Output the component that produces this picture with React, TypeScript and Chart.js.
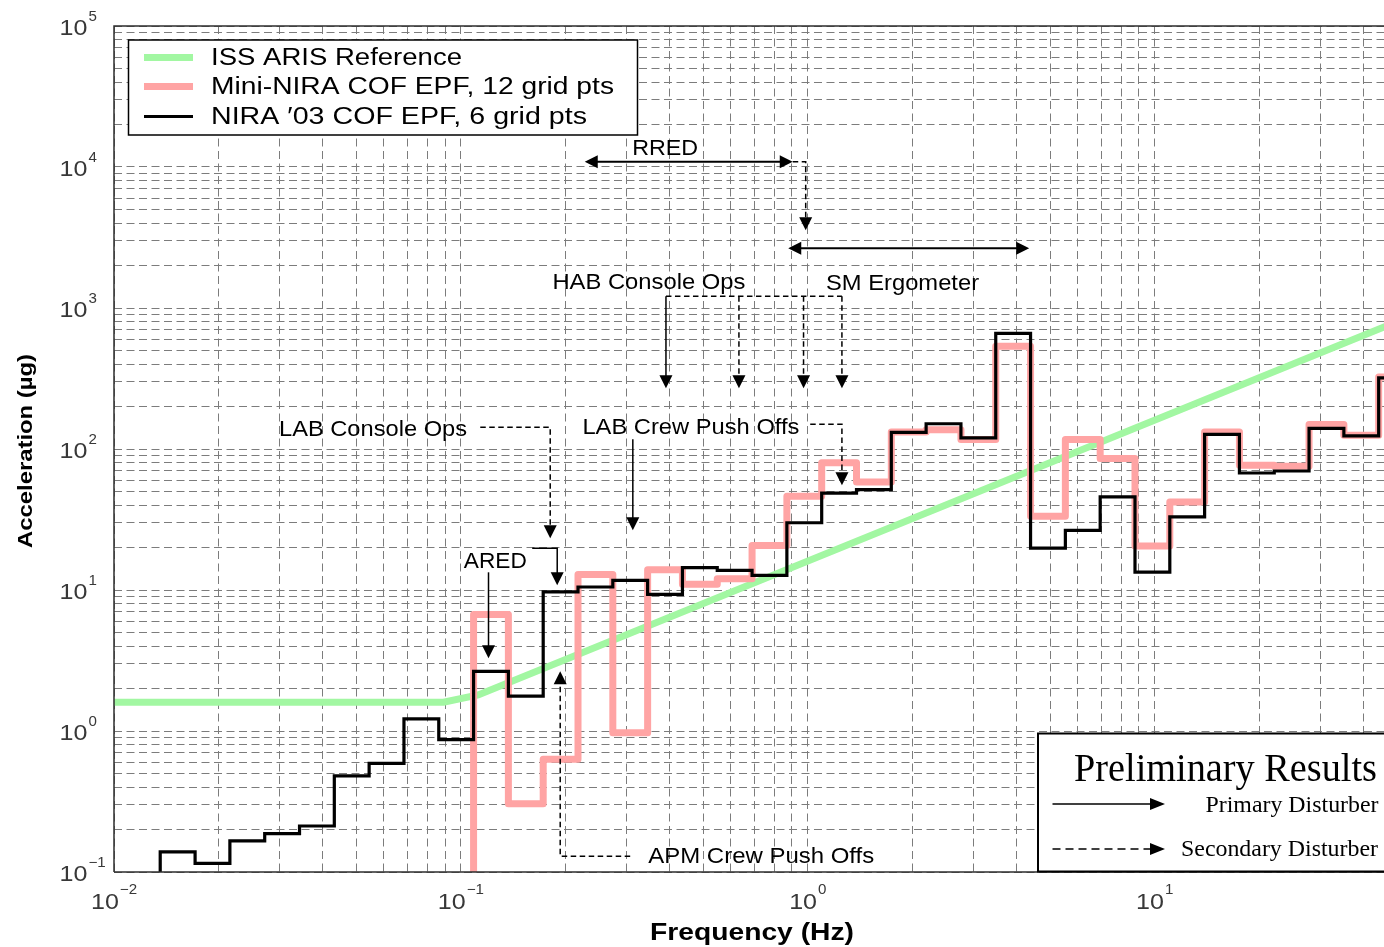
import React, { useEffect, useRef } from 'react';
import { Chart, registerables } from 'chart.js';

Chart.register(...registerables);

// ---------- DATA ----------
// 1/3-octave band edges (Hz): lower edge of each band; the last entry is the upper edge of the final band
const bandEdgesHz = [
  0.01079, 0.01359, 0.01713, 0.02158, 0.02719, 0.03426, 0.04316, 0.05438, 0.06852, 0.08633,
  0.10877, 0.13704, 0.17266, 0.21754, 0.27409, 0.34533, 0.43509, 0.54818, 0.69067, 0.87019,
  1.0964, 1.3814, 1.7404, 2.1928, 2.7628, 3.4809, 4.3857, 5.5256, 6.962, 8.7716,
  11.052, 13.924, 17.544, 22.104, 27.85, 35.089, 44.21, 55.701,
];

// NIRA '03 COF EPF, 6 grid pts (µg per band); first band lies below the 0.1 µg floor
const nira03Accel = [
  0.05, 0.139, 0.115, 0.166, 0.187, 0.212, 0.48, 0.59, 1.22, 0.87,
  2.65, 1.77, 9.7, 10.5, 11.7, 9.3, 14.4, 13.8, 12.7, 30,
  48.7, 51.5, 131, 151, 120, 660, 19.8, 26.5, 45.7, 13.4,
  33, 127, 67.6, 69.8, 140, 124, 319,
];

// Mini-NIRA COF EPF, 12 grid pts (µg per band); null = not shown, 0.05 = below the floor
const miniNiraAccel = [
  null, null, null, null, null, null, null, null, null, 0.05,
  6.7, 0.305, 0.63, 12.9, 0.97, 13.9, 11.0, 12.0, 20.7, 46.2,
  80, 58.3, 132, 137, 117, 535, 33.3, 117, 85.5, 20.5,
  42, 132, 76.6, 75.4, 149, 125, 324,
];

// ISS ARIS reference curve
const arisFreqHz = [0.01, 0.0891, 0.1122, 50];
const arisAccel = [1.6, 1.6, 1.8, 800];

const seriesLabels = ['ISS ARIS Reference', 'Mini-NIRA COF EPF, 12 grid pts', 'NIRA \u203203 COF EPF, 6 grid pts'];

// axis decades (tick labels 10^n) and grid multiples
const xDecades = [-2, -1, 0, 1];
const yDecades = [-1, 0, 1, 2, 3, 4, 5];
const gridMultiples = [1, 2, 3, 4, 5, 6, 7, 8, 9];

// annotations, anchored in data units [Hz, µg]
const annotationTexts = [
  { text: 'RRED', at: [0.388, 13977], w: 66 },
  { text: 'SM Ergometer', at: [1.875, 1534], w: 153 },
  { text: 'HAB Console Ops', at: [0.3483, 1551], w: 193 },
  { text: 'LAB Crew Push Offs', at: [0.4603, 146.5], w: 217 },
  { text: 'LAB Console Ops', at: [0.0558, 141.4], w: 188 },
  { text: 'ARED', at: [0.1256, 16.4], w: 63 },
  { text: 'APM Crew Push Offs', at: [0.734, 0.132], w: 226 },
];

const annotationArrows = [
  { path: [[0.2275, 10890], [0.9046, 10890]], dashed: false, heads: 'both', lw: 2 },
  { path: [[0.9046, 10890], [0.986, 10890], [0.986, 3557]], dashed: true, heads: 'end', lw: 1.5 },
  { path: [[0.878, 2651], [4.346, 2651]], dashed: false, heads: 'both', lw: 2 },
  { path: [[0.39, 1211], [0.39, 269.5]], dashed: false, heads: 'end', lw: 1.5 },
  { path: [[0.39, 1211], [1.254, 1211]], dashed: true, heads: 'none', lw: 1.5 },
  { path: [[0.633, 1211], [0.633, 269.5]], dashed: true, heads: 'end', lw: 1.5 },
  { path: [[0.972, 1211], [0.972, 269.5]], dashed: true, heads: 'end', lw: 1.5 },
  { path: [[1.254, 1211], [1.254, 269.5]], dashed: true, heads: 'end', lw: 1.5 },
  { path: [[0.313, 117.2], [0.313, 26.5]], dashed: false, heads: 'end', lw: 1.5 },
  { path: [[1.016, 149.7], [1.254, 149.7], [1.254, 55.3]], dashed: true, heads: 'end', lw: 1.5 },
  { path: [[0.1137, 142.5], [0.1809, 142.5], [0.1809, 23.3]], dashed: true, heads: 'end', lw: 1.5 },
  { path: [[0.1201, 13.35], [0.1201, 3.28]], dashed: false, heads: 'end', lw: 1.5 },
  { path: [[0.1605, 19.76], [0.1895, 19.76], [0.1895, 10.8]], dashed: false, heads: 'end', lw: 1.5 },
  { path: [[0.3076, 0.1292], [0.1933, 0.1292], [0.1933, 2.65]], dashed: true, heads: 'end', lw: 1.5 },
];

// ---------- STYLE ----------
const GREEN = '#a2f7a2';
const PINK = '#ffa4a4';
const BLACK = '#000000';
const GRID = '#7c7c7c';
const SANS = "'Liberation Sans', Arial, Helvetica, sans-serif";
const SERIF = "'Liberation Serif', 'Times New Roman', serif";
const CAP_SANS = 0.716;
const CAP_SERIF = 0.655;

function stairs(values: (number | null)[]) {
  const pts: { x: number; y: number | null }[] = values.map((v, i) => ({ x: bandEdgesHz[i], y: v }));
  pts.push({ x: bandEdgesHz[values.length], y: values[values.length - 1] });
  return pts;
}

function decadeTicks(decades: number[], min: number, max: number) {
  const out: { value: number; major: boolean }[] = [];
  for (const d of decades) {
    for (const m of gridMultiples) {
      const v = m * Math.pow(10, d);
      if (v >= min * 0.9999 && v <= max * 1.0001) out.push({ value: v, major: m === 1 });
    }
  }
  return out;
}

type TxtOpts = {
  size: number; family: string; weight?: string; width?: number; sx?: number;
  color?: string; cap: number; align?: 'left' | 'center' | 'right'; rotate?: number;
};

function fitText(ctx: CanvasRenderingContext2D, text: string, cx: number, cy: number, o: TxtOpts) {
  ctx.save();
  ctx.font = `${o.weight ?? 'normal'} ${o.size}px ${o.family}`;
  const nat = ctx.measureText(text).width;
  const sx = o.width ? o.width / nat : o.sx ?? 1;
  const w = nat * sx;
  ctx.translate(cx, cy);
  if (o.rotate) ctx.rotate(o.rotate);
  const ax = o.align === 'left' ? 0 : o.align === 'right' ? -w : -w / 2;
  ctx.translate(ax, (o.size * o.cap) / 2);
  ctx.scale(sx, 1);
  ctx.fillStyle = o.color ?? '#000';
  ctx.textAlign = 'left';
  ctx.textBaseline = 'alphabetic';
  ctx.fillText(text, 0, 0);
  ctx.restore();
  return w;
}

function arrowHead(ctx: CanvasRenderingContext2D, tip: number[], from: number[], len: number, half: number) {
  const a = Math.atan2(tip[1] - from[1], tip[0] - from[0]);
  const c = Math.cos(a), s = Math.sin(a);
  ctx.beginPath();
  ctx.moveTo(tip[0], tip[1]);
  ctx.lineTo(tip[0] - len * c - half * s, tip[1] - len * s + half * c);
  ctx.lineTo(tip[0] - len * c + half * s, tip[1] - len * s - half * c);
  ctx.closePath();
  ctx.fill();
}

function drawArrow(
  ctx: CanvasRenderingContext2D, pts: number[][], dashed: boolean, heads: string, lw: number,
  dash: number[], len = 13, half = 6.5,
) {
  const p = pts.map((q) => [q[0], q[1]]);
  const shorten = (i: number, j: number) => {
    const dx = p[i][0] - p[j][0], dy = p[i][1] - p[j][1];
    const d = Math.hypot(dx, dy) || 1;
    p[i][0] -= (dx / d) * len * 0.8;
    p[i][1] -= (dy / d) * len * 0.8;
  };
  const n = pts.length;
  if (heads === 'end' || heads === 'both') shorten(n - 1, n - 2);
  if (heads === 'both') shorten(0, 1);
  ctx.save();
  ctx.strokeStyle = '#000';
  ctx.fillStyle = '#000';
  ctx.lineWidth = lw;
  ctx.setLineDash(dashed ? dash : []);
  ctx.beginPath();
  ctx.moveTo(p[0][0], p[0][1]);
  for (let i = 1; i < n; i++) ctx.lineTo(p[i][0], p[i][1]);
  ctx.stroke();
  ctx.setLineDash([]);
  if (heads === 'end' || heads === 'both') arrowHead(ctx, pts[n - 1], pts[n - 2], len, half);
  if (heads === 'both') arrowHead(ctx, pts[0], pts[1], len, half);
  ctx.restore();
}

const decorPlugin = {
  id: 'decor',
  afterDraw(chart: any) {
    const { ctx, chartArea: ca } = chart;
    const xs = chart.scales.x;
    const ys = chart.scales.y;
    const P = (f: number, v: number) => [xs.getPixelForValue(f), ys.getPixelForValue(v)];

    // axes frame
    ctx.save();
    ctx.strokeStyle = '#2e2e2e';
    ctx.lineWidth = 1.5;
    ctx.beginPath();
    ctx.moveTo(ca.left, ca.bottom);
    ctx.lineTo(ca.left, ca.top);
    ctx.lineTo(ca.right, ca.top);
    ctx.moveTo(ca.left, ca.bottom);
    ctx.lineTo(ca.right, ca.bottom);
    ctx.stroke();
    ctx.restore();

    // tick labels 10^n
    const TICK = '#383838';
    const BASE = 22, BSX = 1.14, EXP = 14, ESX = 1.08;
    for (const d of yDecades) {
      const py = ys.getPixelForValue(Math.pow(10, d));
      const exp = d < 0 ? '\u2212' + Math.abs(d) : String(d);
      fitText(ctx, '10', 87.5, py + 1, { size: BASE, family: SANS, sx: BSX, cap: CAP_SANS, align: 'right', color: TICK });
      fitText(ctx, exp, 88.5, py - 10, { size: EXP, family: SANS, sx: ESX, cap: CAP_SANS, align: 'left', color: TICK });
    }
    for (const d of xDecades) {
      const px = xs.getPixelForValue(Math.pow(10, d));
      const exp = d < 0 ? '\u2212' + Math.abs(d) : String(d);
      ctx.save();
      ctx.font = `${EXP}px ${SANS}`;
      const ew = ctx.measureText(exp).width * ESX;
      ctx.font = `${BASE}px ${SANS}`;
      const bw = ctx.measureText('10').width * BSX;
      ctx.restore();
      const left = px - (bw + ew + 1) / 2;
      fitText(ctx, '10', left, 901, { size: BASE, family: SANS, sx: BSX, cap: CAP_SANS, align: 'left', color: TICK });
      fitText(ctx, exp, left + bw + 1, 889, { size: EXP, family: SANS, sx: ESX, cap: CAP_SANS, align: 'left', color: TICK });
    }

    // axis titles
    fitText(ctx, 'Frequency (Hz)', (ca.left + ca.right) / 2 + 3, 931.5, {
      size: 23, family: SANS, weight: 'bold', width: 204, cap: CAP_SANS, align: 'center',
    });
    fitText(ctx, 'Acceleration (\u00b5g)', 24, (ca.top + ca.bottom) / 2 + 2, {
      size: 21, family: SANS, weight: 'bold', width: 194, cap: CAP_SANS, align: 'center', rotate: -Math.PI / 2,
    });

    // annotations
    for (const a of annotationArrows) {
      drawArrow(ctx, a.path.map((q) => P(q[0], q[1])), a.dashed, a.heads, a.lw, [5.5, 3.5]);
    }
    for (const t of annotationTexts) {
      const [px, py] = P(t.at[0], t.at[1]);
      fitText(ctx, t.text, px, py, { size: 22.5, family: SANS, width: t.w, cap: CAP_SANS, align: 'center' });
    }

    // series legend (top-left)
    ctx.save();
    ctx.fillStyle = '#fff';
    ctx.fillRect(128.5, 40, 509, 95);
    ctx.strokeStyle = '#000';
    ctx.lineWidth = 1.5;
    ctx.strokeRect(128.5, 40, 509, 95);
    const legendRows = [
      { color: GREEN, lw: 7, y: 57.5, ty: 56.7, w: 251 },
      { color: PINK, lw: 7, y: 86.5, ty: 85.7, w: 403 },
      { color: BLACK, lw: 3, y: 116.5, ty: 116, w: 376 },
    ];
    legendRows.forEach((r, i) => {
      ctx.strokeStyle = r.color;
      ctx.lineWidth = r.lw;
      ctx.beginPath();
      ctx.moveTo(144, r.y);
      ctx.lineTo(193, r.y);
      ctx.stroke();
      fitText(ctx, seriesLabels[i], 211, r.ty, { size: 23, family: SANS, width: r.w, cap: CAP_SANS, align: 'left' });
    });
    ctx.restore();

    // "Preliminary Results" key (bottom-right)
    ctx.save();
    ctx.fillStyle = '#fff';
    ctx.fillRect(1038, 733.5, 360, 138);
    ctx.strokeStyle = '#000';
    ctx.lineWidth = 2;
    ctx.strokeRect(1038, 733.5, 360, 138);
    ctx.restore();
    fitText(ctx, 'Preliminary Results', 1074, 768, { size: 39, family: SERIF, width: 303, cap: CAP_SERIF, align: 'left' });
    drawArrow(ctx, [[1052.5, 804], [1165, 804]], false, 'end', 1.5, [], 15, 6);
    fitText(ctx, 'Primary Disturber', 1205.5, 804.5, { size: 24, family: SERIF, width: 173, cap: CAP_SERIF, align: 'left' });
    drawArrow(ctx, [[1052.5, 849], [1165, 849]], true, 'end', 1.5, [8, 5], 15, 6);
    fitText(ctx, 'Secondary Disturber', 1181, 848, { size: 24, family: SERIF, width: 197, cap: CAP_SERIF, align: 'left' });
  },
};

export default function App() {
  const ref = useRef<HTMLCanvasElement>(null);
  useEffect(() => {
    document.body.style.margin = '0';
    const canvas = ref.current!;
    const chart = new Chart(canvas, {
      type: 'line',
      data: {
        datasets: [
          {
            label: seriesLabels[2], data: stairs(nira03Accel) as any, stepped: true,
            borderColor: BLACK, borderWidth: 3.2, pointRadius: 0, fill: false, order: 1, clip: 0 as any,
            borderJoinStyle: 'miter', spanGaps: false,
          },
          {
            label: seriesLabels[1], data: stairs(miniNiraAccel) as any, stepped: true,
            borderColor: PINK, borderWidth: 7, pointRadius: 0, fill: false, order: 2, clip: 0 as any,
            borderJoinStyle: 'round', spanGaps: false,
          },
          {
            label: seriesLabels[0], data: arisFreqHz.map((f, i) => ({ x: f, y: arisAccel[i] })) as any,
            borderColor: GREEN, borderWidth: 7, pointRadius: 0, fill: false, order: 3, clip: 0 as any,
          },
        ],
      },
      options: {
        responsive: false,
        animation: false,
        devicePixelRatio: 1,
        events: [],
        layout: { padding: { left: 114, right: 0, top: 26, bottom: 75 }, autoPadding: false },
        plugins: { legend: { display: false }, tooltip: { enabled: false } },
        elements: { point: { radius: 0 }, line: { tension: 0 } },
        scales: {
          x: {
            type: 'logarithmic', min: 0.01, max: 45.8,
            afterBuildTicks: (s: any) => { s.ticks = decadeTicks([...xDecades], 0.01, 45.8); },
            ticks: { display: false },
            grid: { color: GRID, lineWidth: 1, drawTicks: false },
            border: { display: false, dash: [8, 4.5] },
          },
          y: {
            type: 'logarithmic', min: 0.1, max: 1e5,
            afterBuildTicks: (s: any) => { s.ticks = decadeTicks([...yDecades], 0.1, 1e5); },
            ticks: { display: false },
            grid: { color: GRID, lineWidth: 1, drawTicks: false },
            border: { display: false, dash: [8, 4.5] },
          },
        },
      } as any,
      plugins: [decorPlugin],
    });
    return () => chart.destroy();
  }, []);
  return (
    <div style={{ width: 1384, height: 947, background: '#fff' }}>
      <canvas ref={ref} width={1384} height={947} style={{ display: 'block' }} />
    </div>
  );
}
